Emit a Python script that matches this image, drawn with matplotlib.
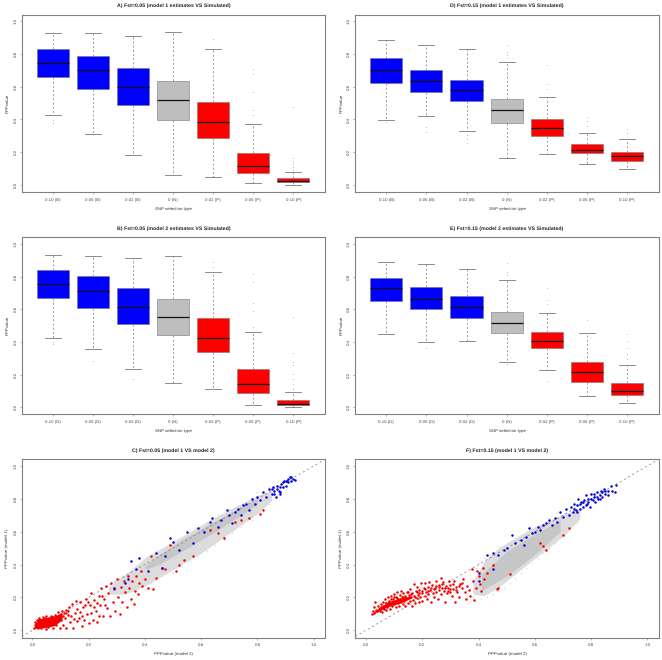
import matplotlib
matplotlib.use('Agg')
import matplotlib.pyplot as plt

plt.rcParams['font.family'] = ['Liberation Sans', 'DejaVu Sans']
plt.rcParams['text.hinting'] = 'none'

W, H = 662, 660

cats = ['0.10 (B)', '0.05 (B)', '0.02 (B)', '0 (N)', '0.02 (P)', '0.05 (P)', '0.10 (P)']
cats_e = ['0.10 (D)', '0.05 (D)', '0.02 (D)', '0 (N)', '0.02 (P)', '0.05 (P)', '0.10 (P)']
box_colors = ['#0000ff', '#0000ff', '#0000ff', '#bebebe', '#ff0000', '#ff0000', '#ff0000']
ticks = [0.0, 0.2, 0.4, 0.6, 0.8, 1.0]

# each box: low whisker, q1, median, q3, high whisker
a_stats = [(.427, .659, .748, .831, .927), (.311, .587, .700, .790, .931), (.181, .486, .600, .713, .909),
           (.059, .398, .516, .634, .933), (.049, .289, .384, .506, .829), (.012, .075, .116, .193, .372),
           (.002, .016, .026, .043, .079)]
a_fliers = [[.378, .395], [], [], [], [.89], [.71, .675, .565, .455, .43], [.478, .165, .14, .13, .11, .09]]

d_stats = [(.396, .622, .700, .774, .884), (.421, .567, .636, .701, .854), (.329, .510, .577, .640, .829),
           (.163, .378, .455, .528, .750), (.191, .299, .348, .400, .537), (.128, .195, .215, .248, .317),
           (.098, .146, .175, .201, .280)]
d_fliers = [[.384], [.354, .321], [.307, .28, .256], [.856, .815, .795, .774], [.732, .616, .585],
            [.415, .388, .358], [.343, .317]]

b_stats = [(.425, .671, .756, .841, .933), (.359, .605, .714, .804, .927), (.232, .510, .615, .728, .913),
           (.147, .442, .550, .661, .923), (.111, .339, .421, .546, .829), (.016, .085, .145, .236, .462),
           (.002, .012, .020, .044, .093)]
b_fliers = [[.389, .40], [.286], [.171], [], [.889, .86], [.815, .768, .635, .587, .492],
            [.55, .335, .278, .258, .204, .173, .143, .113]]

e_stats = [(.450, .651, .728, .794, .891), (.401, .599, .663, .738, .879), (.405, .546, .613, .681, .849),
           (.278, .454, .514, .583, .776), (.226, .361, .407, .458, .577), (.069, .157, .214, .276, .456),
           (.024, .075, .101, .147, .258)]
e_fliers = [[], [.365], [], [.881, .829, .808, .264], [.728, .657, .633, .163], [.536],
            [.45, .405, .365, .325, .294]]

# grey clouds of the scatter panels, outline
c_outer_x = [.27, .33, .40, .50, .60, .70, .80, .85]
c_outer_lo = [.22, .22, .27, .37, .47, .59, .71, .79]
c_outer_hi = [.26, .34, .44, .54, .64, .735, .82, .85]
c_core_x = [.40, .45, .55, .65, .75, .80]
c_core_lo = [.37, .40, .50, .60, .71, .77]
c_core_hi = [.39, .46, .57, .665, .755, .80]

f_outer_x = [.38, .42, .47, .587, .706, .76]
f_outer_lo = [.22, .21, .26, .42, .58, .68]
f_outer_hi = [.30, .42, .50, .62, .71, .74]
f_core_x = [.41, .50, .60, .69]
f_core_lo = [.24, .33, .46, .60]
f_core_hi = [.34, .48, .585, .67]

# solid part of the red clusters near the origin
c_dense_x = [.008, .02, .05, .08, .105]
c_dense_lo = [.015, .012, .018, .03, .065]
c_dense_hi = [.035, .07, .078, .088, .10]
f_dense_x = [.03, .05, .08, .12, .16]
f_dense_lo = [.105, .12, .145, .165, .195]
f_dense_hi = [.115, .14, .175, .195, .21]

c_grey = [(.19, .11), (.21, .14), (.24, .10), (.25, .17), (.27, .13), (.29, .16), (.31, .14), (.33, .18), (.35, .19),
          (.36, .17), (.38, .22), (.30, .30), (.28, .27), (.32, .33), (.36, .37), (.40, .25), (.42, .29), (.44, .31),
          (.46, .33), (.48, .35), (.41, .45), (.44, .48), (.47, .50), (.50, .35), (.53, .39), (.56, .42), (.59, .45),
          (.52, .55), (.55, .58), (.58, .62), (.62, .66), (.62, .48), (.65, .52), (.68, .55), (.71, .59), (.74, .63),
          (.66, .70), (.70, .74), (.78, .67), (.81, .72), (.84, .77), (.87, .82), (.80, .84), (.84, .87), (.46, .42),
          (.39, .33), (.34, .26), (.37, .30), (.43, .36), (.49, .44), (.30, .20), (.26, .21), (.23, .18)]

f_grey = [(.37, .18), (.38, .21), (.39, .17), (.41, .19), (.43, .20), (.45, .22), (.47, .24), (.49, .26), (.51, .29),
          (.53, .32), (.55, .35), (.57, .38), (.59, .41), (.61, .44), (.63, .47), (.65, .50), (.67, .53), (.69, .56),
          (.71, .59), (.73, .63), (.75, .66), (.39, .38), (.40, .41), (.42, .44), (.44, .46), (.47, .51), (.50, .53),
          (.53, .56), (.56, .58), (.59, .61), (.62, .64), (.65, .68), (.68, .72), (.71, .73), (.38, .30), (.37, .26),
          (.40, .23), (.44, .25), (.48, .30), (.52, .36), (.56, .42), (.60, .46), (.64, .52), (.68, .58), (.72, .65)]

c_red = [(.005, .012), (.008, .03), (.01, .05), (.012, .02), (.015, .065), (.018, .035), (.02, .015), (.022, .05),
         (.025, .075), (.027, .03), (.03, .06), (.032, .015), (.035, .045), (.037, .08), (.04, .025), (.042, .065),
         (.045, .05), (.047, .01), (.05, .085), (.052, .035), (.055, .06), (.057, .02), (.06, .075), (.062, .045),
         (.065, .09), (.067, .03), (.07, .06), (.072, .015), (.075, .08), (.078, .045), (.08, .095), (.082, .065),
         (.085, .03), (.088, .085), (.09, .055), (.092, .11), (.095, .075), (.098, .015), (.10, .10), (.103, .06),
         (.105, .12), (.108, .085), (.11, .035), (.112, .105), (.115, .075), (.12, .015), (.12, .125), (.125, .095),
         (.13, .14), (.135, .05), (.14, .16), (.145, .015), (.15, .105), (.155, .18), (.158, .055), (.16, .13),
         (.165, .075), (.17, .17), (.175, .025), (.18, .14), (.185, .06), (.19, .19), (.195, .10), (.2, .045),
         (.205, .155), (.21, .225), (.215, .065), (.22, .185), (.225, .12), (.23, .05), (.235, .21), (.24, .155),
         (.245, .255), (.25, .085), (.255, .19), (.26, .27), (.265, .135), (.27, .225), (.275, .09), (.28, .29),
         (.285, .17), (.29, .25), (.295, .12), (.30, .31), (.305, .20), (.31, .10), (.315, .265), (.32, .17),
         (.325, .30), (.33, .23), (.335, .14), (.34, .33), (.345, .26), (.35, .19), (.355, .30), (.36, .16),
         (.365, .24), (.37, .33), (.375, .22), (.38, .29), (.385, .36), (.39, .27), (.40, .31), (.41, .26),
         (.42, .45), (.43, .25), (.44, .32), (.46, .38), (.47, .37), (.49, .52), (.52, .40), (.54, .43), (.57, .45),
         (.63, .61), (.66, .59), (.68, .56), (.74, .67), (.77, .68), (.82, .73), (.81, .71), (.72, .66), (.51, .36),
         (.012, .04), (.023, .062), (.034, .028), (.044, .072), (.058, .052), (.068, .078), (.074, .038), (.084, .074),
         (.094, .092), (.102, .082), (.118, .108), (.128, .118), (.138, .09), (.148, .07), (.168, .11), (.178, .09),
         (.188, .155), (.198, .17), (.208, .105), (.218, .14), (.228, .165), (.238, .09), (.248, .21), (.258, .155)]

c_blue = [(.35, .42), (.38, .44), (.41, .36), (.34, .31), (.33, .29), (.37, .37), (.29, .26), (.44, .47), (.46, .38),
          (.47, .45), (.49, .56), (.50, .54), (.52, .49), (.55, .60), (.57, .53), (.59, .62), (.61, .60), (.63, .66),
          (.64, .68), (.66, .63), (.67, .67), (.69, .73), (.70, .70), (.71, .65), (.72, .72), (.73, .74), (.74, .70),
          (.75, .76), (.76, .77), (.77, .73), (.78, .80), (.79, .77), (.80, .81), (.81, .79), (.82, .84), (.83, .81),
          (.84, .86), (.85, .83), (.855, .87), (.86, .85), (.865, .81), (.87, .88), (.875, .85), (.88, .83), (.885, .89),
          (.89, .87), (.895, .91), (.90, .88), (.905, .91), (.91, .90), (.915, .93), (.92, .91), (.925, .92), (.935, .915),
          (.86, .83), (.87, .86), (.88, .87), (.89, .90), (.90, .91), (.91, .92), (.92, .93), (.85, .86), (.88, .84)]

f_red = [(.02, .10), (.025, .12), (.028, .14), (.03, .105), (.033, .17), (.035, .125), (.04, .115), (.042, .15),
         (.045, .13), (.05, .12), (.052, .16), (.055, .14), (.058, .11), (.06, .175), (.063, .13), (.065, .15),
         (.068, .19), (.07, .125), (.072, .165), (.075, .14), (.078, .20), (.08, .155), (.082, .18), (.085, .13),
         (.088, .21), (.09, .165), (.092, .145), (.095, .19), (.098, .22), (.10, .16), (.103, .18), (.105, .14),
         (.108, .205), (.11, .23), (.112, .165), (.115, .19), (.118, .15), (.12, .215), (.123, .175), (.125, .24),
         (.128, .20), (.13, .16), (.133, .225), (.135, .18), (.138, .145), (.14, .21), (.143, .19), (.145, .235),
         (.15, .165), (.153, .215), (.155, .18), (.158, .25), (.16, .20), (.163, .15), (.165, .225), (.168, .185),
         (.17, .28), (.173, .205), (.175, .165), (.178, .24), (.18, .195), (.183, .265), (.185, .215), (.188, .17),
         (.19, .245), (.193, .20), (.195, .285), (.198, .225), (.20, .18), (.205, .255), (.208, .21), (.21, .285),
         (.213, .235), (.215, .19), (.22, .265), (.222, .22), (.225, .295), (.228, .245), (.23, .175), (.235, .275),
         (.238, .225), (.24, .20), (.245, .26), (.248, .30), (.25, .235), (.255, .19), (.258, .275), (.26, .245),
         (.265, .32), (.268, .22), (.27, .26), (.275, .295), (.278, .24), (.28, .175), (.285, .27), (.288, .225),
         (.29, .255), (.295, .30), (.298, .235), (.30, .275), (.305, .21), (.31, .25), (.312, .30), (.315, .17),
         (.32, .265), (.325, .235), (.33, .20), (.335, .28), (.34, .255), (.345, .31), (.35, .235), (.355, .19),
         (.36, .27), (.365, .245), (.37, .21), (.375, .37), (.38, .30), (.385, .185), (.39, .26), (.395, .36),
         (.40, .33), (.405, .28), (.41, .24), (.415, .38), (.42, .31), (.43, .35), (.45, .40), (.47, .26), (.465, .25),
         (.62, .53), (.64, .49), (.63, .51), (.72, .62), (.70, .58), (.51, .34),
         (.05, .135), (.06, .15), (.07, .165), (.08, .17), (.09, .19), (.10, .20), (.11, .195), (.12, .19), (.13, .205),
         (.14, .195), (.15, .23), (.16, .22), (.17, .21), (.18, .235), (.19, .225), (.20, .24), (.21, .25), (.22, .24),
         (.23, .26), (.24, .25), (.25, .27), (.26, .265), (.27, .28), (.28, .255), (.29, .24), (.30, .25), (.31, .28),
         (.32, .245), (.33, .27), (.34, .29)]

f_blue = [(.43, .46), (.40, .30), (.45, .37), (.40, .35), (.45, .47), (.47, .46), (.49, .49), (.50, .50), (.52, .58),
          (.53, .53), (.55, .55), (.56, .52), (.57, .57), (.58, .62), (.59, .59), (.60, .60), (.61, .63), (.62, .61),
          (.63, .64), (.64, .65), (.65, .67), (.66, .64), (.67, .68), (.68, .66), (.69, .72), (.70, .69), (.71, .74),
          (.72, .70), (.73, .75), (.735, .72), (.74, .77), (.745, .73), (.75, .76), (.755, .80), (.76, .74), (.765, .78),
          (.77, .75), (.775, .79), (.78, .82), (.785, .77), (.79, .80), (.795, .75), (.80, .83), (.805, .79), (.81, .81),
          (.815, .78), (.82, .84), (.825, .80), (.83, .82), (.835, .85), (.84, .81), (.85, .83), (.86, .85), (.87, .88),
          (.875, .85), (.885, .84), (.89, .885), (.845, .86), (.74, .74), (.75, .72), (.76, .77), (.77, .78), (.78, .76),
          (.79, .78), (.80, .80), (.81, .83), (.82, .81), (.83, .80), (.84, .84), (.85, .85), (.86, .82)]


def make_axes(left, top, right, bottom):
    return plt.gcf().add_axes([left / W, 1 - bottom / H, (right - left) / W, (bottom - top) / H])


def style(ax, title, xlabel, ylabel, pad):
    ax.set_title(title, fontsize=3.8, fontweight='bold', pad=pad, color='#222222')
    ax.set_xlabel(xlabel, fontsize=3.2, labelpad=3.8, color='#333333')
    ax.set_ylabel(ylabel, fontsize=3.2, labelpad=3.0, color='#333333')
    ax.set_yticks(ticks)
    ax.set_yticklabels(['%.1f' % t for t in ticks], rotation=90, va='center')
    ax.tick_params(labelsize=3.2, length=1.6, width=0.4, pad=1.6, color='#777777', labelcolor='#444444')
    ax.tick_params(axis='x', pad=2.6)
    for s in ax.spines.values():
        s.set_linewidth(0.8)
        s.set_color('#808080')


def box_panel(rect, stats, fliers, labels, title, pad):
    ax = make_axes(*rect)
    rows = []
    for st, fl in zip(stats, fliers):
        rows.append({'whislo': st[0], 'q1': st[1], 'med': st[2], 'q3': st[3], 'whishi': st[4], 'fliers': fl})
    parts = ax.bxp(rows, positions=range(1, 8), widths=0.8, capwidths=0.4, patch_artist=True,
                   medianprops=dict(color='#111111', linewidth=0.9),
                   whiskerprops=dict(color='#777777', linewidth=0.5, linestyle=(0, (3, 3))),
                   capprops=dict(color='#777777', linewidth=0.6),
                   boxprops=dict(edgecolor='#777777', linewidth=0.4),
                   flierprops=dict(marker='o', markersize=0.5, markerfacecolor='#aaaaaa',
                                   markeredgecolor='#aaaaaa', markeredgewidth=0.2))
    for patch, col in zip(parts['boxes'], box_colors):
        patch.set_facecolor(col)
    ax.set_xlim(0.227, 7.79)
    ax.set_ylim(-0.043, 1.04)
    ax.set_xticks(range(1, 8))
    ax.set_xticklabels(labels)
    style(ax, title, 'SNP selection type', 'PPPvalue', pad)
    return ax


def scatter_panel(rect, outer, core, dense, grey, red, blue, title, xlim):
    ax = make_axes(*rect)
    ax.fill_between(outer[0], outer[1], outer[2], color='#dcdcdc', linewidth=0, zorder=1)
    ax.fill_between(core[0], core[1], core[2], color='#c6c6c6', linewidth=0, zorder=1.5)
    ax.scatter([p[0] for p in grey], [p[1] for p in grey], s=1.6, color='#e0e0e0', linewidths=0, zorder=1.2)
    ax.axline((0, 0), slope=1, color='#777777', linewidth=0.5, linestyle=(0, (3, 4)), zorder=2)
    ax.fill_between(dense[0], dense[1], dense[2], color='#ff0000', linewidth=0, zorder=3)
    ax.scatter([p[0] for p in red], [p[1] for p in red], s=3.2, color='#f00000', linewidths=0, zorder=3)
    ax.scatter([p[0] for p in blue], [p[1] for p in blue], s=3.2, color='#0000dd', linewidths=0, zorder=3)
    ax.set_xlim(*xlim)
    ax.set_ylim(-0.045, 1.04)
    ax.set_xticks(ticks)
    ax.set_xticklabels(['%.1f' % t for t in ticks])
    style(ax, title, 'PPPvalue (model 2)', 'PPPvalue (model 1)', 5.5)
    return ax


fig = plt.figure(figsize=(W / 100, H / 100), dpi=100)

box_panel((21.7, 14.7, 325, 192), a_stats, a_fliers, cats, 'A) Fst=0.05 (model 1 estimates VS Simulated)', 5.5)
box_panel((355.3, 14.7, 658.7, 192), d_stats, d_fliers, cats, 'D) Fst=0.15 (model 1 estimates VS Simulated)', 5.5)
box_panel((21.7, 237.3, 325, 414.3), b_stats, b_fliers, cats_e, 'B) Fst=0.05 (model 2 estimates VS Simulated)', 5.5)
box_panel((355.3, 237.3, 658.7, 414.3), e_stats, e_fliers, cats_e, 'E) Fst=0.15 (model 2 estimates VS Simulated)', 5.5)

scatter_panel((21.7, 459.3, 325, 637.7), (c_outer_x, c_outer_lo, c_outer_hi), (c_core_x, c_core_lo, c_core_hi),
              (c_dense_x, c_dense_lo, c_dense_hi), c_grey, c_red, c_blue,
              'C) Fst=0.05 (model 1 VS model 2)', (-0.038, 1.04))
scatter_panel((355.3, 459.3, 658.7, 637.7), (f_outer_x, f_outer_lo, f_outer_hi), (f_core_x, f_core_lo, f_core_hi),
              (f_dense_x, f_dense_lo, f_dense_hi), f_grey, f_red, f_blue,
              'F) Fst=0.15 (model 1 VS model 2)', (-0.038, 1.04))

fig.savefig('out.png', dpi=100, facecolor='white')
